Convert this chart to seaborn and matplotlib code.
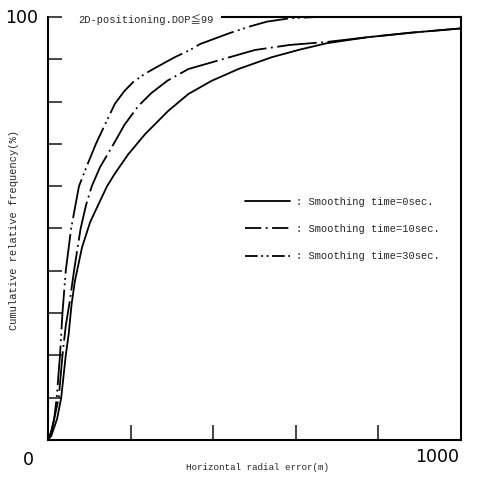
import numpy as np
import pandas as pd
import matplotlib
matplotlib.use("Agg")
import matplotlib.pyplot as plt
from matplotlib.lines import Line2D
import seaborn as sns

# Cumulative distribution of horizontal radial error for three smoothing times
err_0s = [0, 8, 15, 22, 32, 43, 50, 57, 65, 82, 102, 126, 143, 162, 194, 235, 291,
          340, 396, 461, 542, 610, 675, 772, 880, 1000]
freq_0s = [0, 1, 3, 5, 10, 20, 25, 32, 37.5, 45.4, 51.5, 56.5, 60, 63, 67.5, 72.3, 77.8,
           81.8, 84.9, 87.7, 90.5, 92.3, 93.8, 95.2, 96.3, 97.3]

err_10s = [0, 8, 15, 26, 35, 43, 53, 63, 79, 92, 106, 126, 159, 185, 219, 250, 290, 340,
           440, 501, 586, 675, 772, 880, 1000]
freq_10s = [0, 2, 5, 10, 20, 27, 33, 40, 50, 55.5, 60, 64.5, 70, 74.5, 79, 82, 85, 87.7,
            90.5, 92.2, 93.4, 94.1, 95.2, 96.3, 97.3]

err_30s = [0, 8, 15, 21, 29, 35, 43, 56, 75, 95, 116, 140, 162, 185, 206, 235, 264, 307,
           344, 368, 440, 490, 530, 586, 650, 1000]
freq_30s = [0, 2, 5, 10, 20, 30, 40, 50, 60, 65, 70, 75, 79.5, 82.5, 84.6, 86.6, 88.2, 90.5,
            92.2, 93.6, 96.2, 97.8, 98.9, 99.7, 100, 100]

legend_labels = [": Smoothing time=0sec.",
                 ": Smoothing time=10sec.",
                 ": Smoothing time=30sec."]

df = pd.concat([
    pd.DataFrame({"err": err_0s, "freq": freq_0s, "smoothing": "0sec"}),
    pd.DataFrame({"err": err_10s, "freq": freq_10s, "smoothing": "10sec"}),
    pd.DataFrame({"err": err_30s, "freq": freq_30s, "smoothing": "30sec"}),
], ignore_index=True)

sns.set_style("white")
plt.rcParams["font.family"] = ["Liberation Mono", "Noto Sans CJK JP", "DejaVu Sans"]

fig = plt.figure(figsize=(4.85, 4.78), dpi=100)
ax = fig.add_axes([48 / 485, 38 / 478, 413 / 485, 423 / 478])

curve_dashes = {
    "0sec": "",
    "10sec": (22, 2.5, 1, 2.5),
    "30sec": (22, 2.5, 1, 2, 1, 2.5),
}
sns.lineplot(data=df, x="err", y="freq", style="smoothing", dashes=curve_dashes,
             color="black", linewidth=1.3, estimator=None, sort=False,
             legend=False, ax=ax)

ax.set_xlim(0, 1000)
ax.set_ylim(0, 100)

# Frame: full left/bottom/right, top edge only to the right of the note
for side in ["left", "bottom", "right", "top"]:
    ax.spines[side].set_visible(True)
    ax.spines[side].set_color("black")
    ax.spines[side].set_linewidth(1.5)
ax.spines["top"].set_bounds(421, 1000)

ax.set_xticks([200, 400, 600, 800])
ax.set_yticks(np.arange(0, 101, 10))
ax.tick_params(axis="x", direction="in", length=11, width=1.2, labelbottom=False, bottom=True)
ax.tick_params(axis="y", direction="in", length=10, width=1.2, labelleft=False, left=True)
ax.set_xlabel("")
ax.set_ylabel("")

num_font = dict(family="DejaVu Sans", fontsize=12.5, color="black")
ax.text(-65, 99.8, "100", ha="center", va="center", clip_on=False, **num_font)
ax.text(-48, -4.7, "0", ha="center", va="center", clip_on=False, **num_font)
ax.text(942, -4.0, "1000", ha="center", va="center", clip_on=False, **num_font)

ax.text(508, -6.4, "Horizontal radial error(m)", ha="center", va="center",
        fontsize=6.7, clip_on=False)
ax.text(-82, 49.6, "Cumulative relative frequency(%)", ha="center", va="center",
        rotation=90, fontsize=7.5, clip_on=False)
ax.text(72, 99.5, "2D-positioning.DOP≦99", ha="left", va="center",
        fontsize=7.5, clip_on=False,
        family=["Liberation Mono", "Noto Sans CJK JP"])

handles = [Line2D([], [], color="black", lw=1.3, linestyle="-"),
           Line2D([], [], color="black", lw=1.3, dashes=(9, 2.5, 1, 2.5)),
           Line2D([], [], color="black", lw=1.3, dashes=(7, 2, 1, 2, 1, 2))]
ax.legend(handles, legend_labels, loc="center left",
          bbox_to_anchor=((245 - 48) / 413, (440 - 229) / 423),
          frameon=False, fontsize=7.5, handlelength=4.3, handletextpad=0.6,
          labelspacing=1.67, borderpad=0, borderaxespad=0)

fig.savefig("out.png", dpi=100)
